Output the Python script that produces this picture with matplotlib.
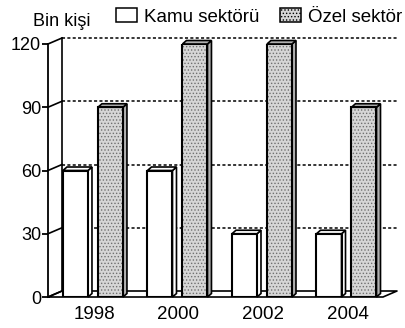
import matplotlib.pyplot as plt
from matplotlib.patches import Polygon, Patch
import numpy as np

years = ['1998', '2000', '2002', '2004']
kamu = [60, 60, 30, 30]
ozel = [90, 120, 120, 90]
yticks = [0, 30, 60, 90, 120]

plt.rcParams['font.family'] = ['Liberation Sans', 'DejaVu Sans']
plt.rcParams['hatch.linewidth'] = 0.6

fig = plt.figure(figsize=(4.05, 3.28), dpi=100)
ax = fig.add_axes([48 / 405, 1 - 297 / 328, 335 / 405, 253 / 328])
x0, x1 = -0.544, 3.42
ax.set_xlim(x0, x1)
ax.set_ylim(0, 120)

# pixel -> data scale factors
px = 84.5
py = 253 / 120
bdx, bdy = 4 / px, 3.5 / py      # bar depth
wdx, wdy = 14 / px, 6 / py       # wall/floor depth

x = np.arange(len(years))
w = 0.296
kamu_left = x - 0.367
ozel_left = x + 0.047

# floor and back wall
kw = dict(color='black', lw=1.2, clip_on=False, zorder=1)
ax.plot([x0, x1, x1 + wdx, x0 + wdx, x0], [0, 0, wdy, wdy, 0], **kw)
ax.plot([x0 + wdx, x0 + wdx], [wdy, 120 + wdy], **kw)
for v in yticks:
    ax.plot([x0, x0 + wdx], [v, v + wdy], **kw)
for v in yticks[1:]:
    ax.plot([x0 + wdx, x1 + wdx], [v + wdy, v + wdy], color='black',
            lw=1.1, ls=(0, (2, 1.5)), clip_on=False, zorder=1)


def bars3d(left, vals, face, side, hatch=None):
    ax.bar(left, vals, width=w, align='edge', color=face,
           edgecolor='#707070' if hatch else face, lw=0, hatch=hatch, zorder=3)
    ax.bar(left, vals, width=w, align='edge', fill=False,
           edgecolor='black', lw=1.5, zorder=4)
    for l, v in zip(left, vals):
        r = l + w
        sp = [(r, 0), (r + bdx, bdy), (r + bdx, v + bdy), (r, v)]
        tp = [(l, v), (l + bdx, v + bdy), (r + bdx, v + bdy), (r, v)]
        for pts in (sp, tp):
            ax.add_patch(Polygon(pts, closed=True, fc=side, ec='black',
                                 lw=1.2, zorder=3, clip_on=False))


bars3d(kamu_left, kamu, 'white', 'white')
bars3d(ozel_left, ozel, '#d6d6d6', '#b0b0b0', hatch='.....')

for s in ['top', 'right', 'bottom']:
    ax.spines[s].set_visible(False)
ax.spines['left'].set_linewidth(1.3)
ax.set_yticks(yticks)
ax.set_xticks(x)
ax.set_xticklabels(years)
ax.tick_params(axis='y', length=4, width=1.3, pad=1, labelsize=13)
ax.tick_params(axis='x', length=0, pad=6.5, labelsize=13.5)

fig.text(33 / 405, 1 - 22 / 328, 'Bin kişi', fontsize=13, va='center')
handles = [Patch(facecolor='white', edgecolor='black', lw=1.1),
           Patch(facecolor='#d6d6d6', edgecolor='black', lw=1.1, hatch='.....')]
fig.legend(handles, ['Kamu sektörü', 'Özel sektör'], loc='center left',
           bbox_to_anchor=(116 / 405, 1 - 17 / 328), ncol=2, frameon=False,
           fontsize=13.5, handlelength=1.1, handleheight=0.7,
           handletextpad=0.4, columnspacing=1.1, borderpad=0, borderaxespad=0)

fig.savefig('out.png', dpi=100)
